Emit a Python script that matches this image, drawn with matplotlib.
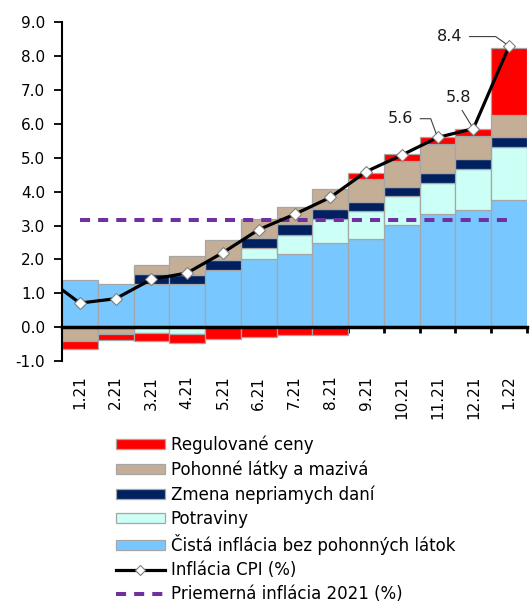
import matplotlib
matplotlib.use("Agg")
import matplotlib.pyplot as plt
import numpy as np
from matplotlib.patches import Patch
from matplotlib.lines import Line2D

# ---- data ----
months = ["1.21", "2.21", "3.21", "4.21", "5.21", "6.21", "7.21",
          "8.21", "9.21", "10.21", "11.21", "12.21", "1.22"]
core = [1.38, 1.26, 1.28, 1.26, 1.70, 2.02, 2.17, 2.49, 2.61, 3.01, 3.33, 3.47, 3.75]
food = [0.00, 0.00, -0.16, -0.20, 0.00, 0.33, 0.54, 0.71, 0.82, 0.86, 0.93, 1.19, 1.58]
taxes = [0.00, 0.00, 0.30, 0.28, 0.27, 0.29, 0.33, 0.28, 0.27, 0.27, 0.30, 0.29, 0.29]
fuel = [-0.40, -0.20, 0.25, 0.55, 0.61, 0.56, 0.51, 0.61, 0.67, 0.77, 0.85, 0.70, 0.64]
regulated = [-0.24, -0.17, -0.25, -0.27, -0.36, -0.30, -0.22, -0.22, 0.19, 0.19, 0.19, 0.19, 1.98]
cpi = [0.71, 0.84, 1.41, 1.60, 2.20, 2.88, 3.33, 3.83, 4.59, 5.08, 5.60, 5.86, 8.30]
cpi_prev = 1.5          # 12.20, only its segment enters the chart
avg_2021 = 3.15
label_idx = [10, 11, 12]
label_texts = ["5.6", "5.8", "8.4"]

names = ["Regulované ceny", "Pohonné látky a mazivá", "Zmena nepriamych daní",
         "Potraviny", "Čistá inflácia bez pohonných látok",
         "Inflácia CPI (%)", "Priemerná inflácia 2021 (%)"]

c_core = "#78C8FF"
c_food = "#CCFFF5"
c_tax = "#002060"
c_fuel = "#C4AE96"
c_reg = "#FF0000"
c_edge = "#A6A6A6"
c_avg = "#7030A0"

plt.rcParams["font.family"] = ["DejaVu Sans"]

fig = plt.figure(figsize=(5.3, 6.07), dpi=100)
ax = fig.add_axes([62 / 530, 1 - 361 / 607, (527 - 62) / 530, (361 - 22.3) / 607])

x = np.arange(len(months))
pos = np.zeros(len(months))
neg = np.zeros(len(months))
series = [(core, c_core), (food, c_food), (taxes, c_tax), (fuel, c_fuel), (regulated, c_reg)]
for vals, color in series:
    v = np.array(vals, dtype=float)
    bottom = np.where(v >= 0, pos, neg)
    lw = np.where(v == 0, 0.0, 0.9)
    ax.bar(x, v, bottom=bottom, width=1.0, color=color, edgecolor=c_edge,
           linewidth=lw, zorder=2)
    pos += np.clip(v, 0, None)
    neg += np.clip(v, None, 0)

# average line
ax.plot([x[0], x[-1]], [avg_2021, avg_2021], color=c_avg, lw=2.9,
        dashes=(2.5, 2.0), zorder=3)

# CPI line
xl = np.concatenate([[x[0] - 1], x])
yl = np.concatenate([[cpi_prev], cpi])
ax.plot(xl, yl, color="black", lw=2.3, marker="D", markersize=6.5,
        markerfacecolor="white", markeredgecolor="#808080", markeredgewidth=0.8,
        markevery=list(range(1, len(xl))), zorder=4)

# annotations
offsets = [(-26.7, 13.5), (-10.4, 22.3), (-42.8, 6.8)]
styles = [
    dict(arrowstyle="-", color="#404040", lw=0.8, relpos=(1.0, 0.5),
         connectionstyle="angle,angleA=0,angleB=110,rad=0", shrinkA=3, shrinkB=3),
    dict(arrowstyle="-", color="#404040", lw=0.8, relpos=(0.5, 0.0),
         shrinkA=2, shrinkB=3),
    dict(arrowstyle="-", color="#404040", lw=0.8, relpos=(1.0, 0.5),
         connectionstyle="angle,angleA=0,angleB=145,rad=0", shrinkA=3, shrinkB=3),
]
for i, txt, off, st in zip(label_idx, label_texts, offsets, styles):
    ax.annotate(txt, xy=(x[i], cpi[i]), xytext=off, textcoords="offset points",
                ha="center", va="center", fontsize=11.5, color="#1a1a1a",
                arrowprops=st, zorder=5)

# axes styling
ax.set_xlim(-0.5, len(months) - 0.5)
ax.set_ylim(-1, 9)
ax.set_yticks(np.arange(-1, 10, 1))
ax.set_yticklabels([f"{v:.1f}" for v in np.arange(-1, 10, 1)])
ax.tick_params(axis="y", direction="out", length=6, width=1.3, pad=6,
               labelsize=11, colors="black")
for s in ["top", "right"]:
    ax.spines[s].set_visible(False)
ax.spines["left"].set_linewidth(1.5)
ax.spines["bottom"].set_position(("data", 0))
ax.spines["bottom"].set_linewidth(2.5)
ax.spines["bottom"].set_zorder(3)

ax.set_xticks(np.arange(-0.5, len(months), 1.0))
ax.set_xticklabels([])
ax.tick_params(axis="x", which="major", direction="out", length=4, width=2)
ax.set_xticks(x, minor=True)
ax.set_xticklabels(months, minor=True)
ax.tick_params(axis="x", which="minor", length=0, pad=35, labelsize=11,
               labelrotation=90)

handles = [
    Patch(facecolor=c_reg, edgecolor=c_edge, lw=0.9),
    Patch(facecolor=c_fuel, edgecolor=c_edge, lw=0.9),
    Patch(facecolor=c_tax, edgecolor=c_edge, lw=0.9),
    Patch(facecolor=c_food, edgecolor=c_edge, lw=0.9),
    Patch(facecolor=c_core, edgecolor=c_edge, lw=0.9),
    Line2D([], [], color="black", lw=2.3, marker="D", markersize=5,
           markerfacecolor="white", markeredgecolor="#808080", markeredgewidth=0.8),
    Line2D([], [], color=c_avg, lw=2.9, dashes=(2.5, 2.0)),
]
fig.legend(handles, names, loc="upper left", bbox_to_anchor=(0.191, 0.306),
           frameon=False, fontsize=12, handlelength=2.94, handleheight=0.56,
           handletextpad=0.36, labelspacing=0.37, borderpad=0.37)

fig.savefig("out.png", dpi=100)
